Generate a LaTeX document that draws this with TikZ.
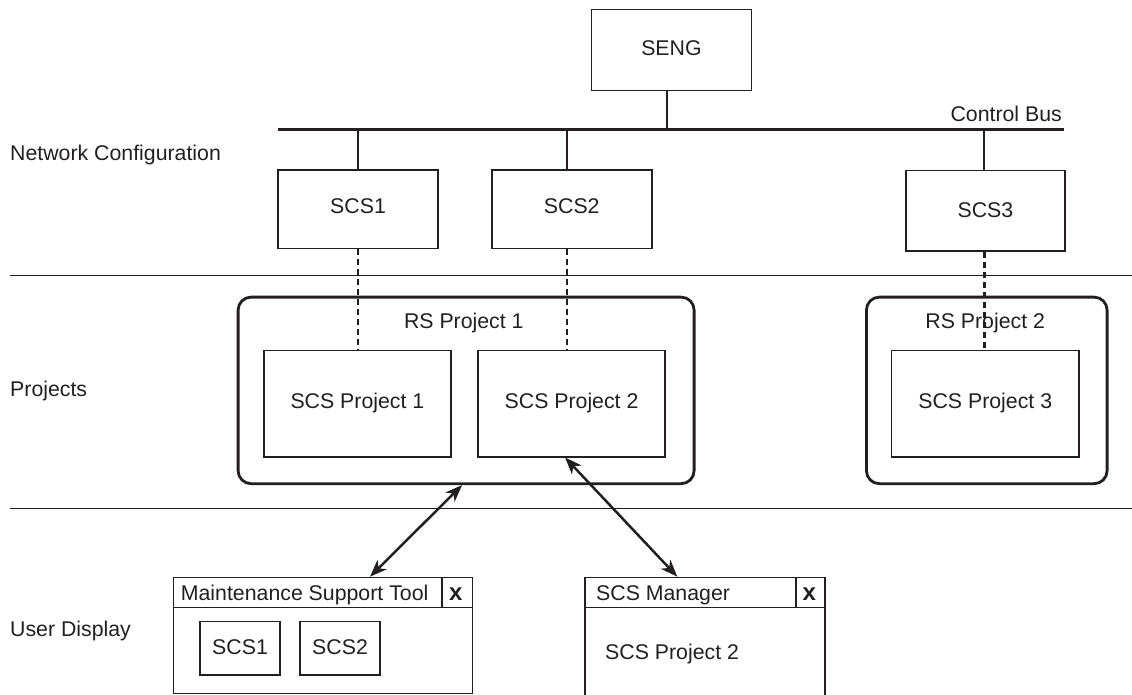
\documentclass[tikz,border=0pt]{standalone}
\usepackage{fontspec}
\setmainfont{Liberation Sans}
\usetikzlibrary{arrows.meta,calc}
\definecolor{ink}{RGB}{35,31,32}
\begin{document}
\begin{tikzpicture}[x=1pt,y=-1pt,
  every node/.style={font=\fontsize{21.3pt}{25pt}\selectfont, text=ink, inner sep=0pt},
  box/.style={draw=ink, line width=1.5pt, anchor=north west, text height=14.5pt},
  rsbox/.style={draw=ink, line width=2.8pt, rounded corners=13pt, anchor=north west},
  winbox/.style={draw=ink, line width=1.5pt, anchor=north west},
  bus/.style={draw=ink, line width=2.9pt},
  drop/.style={draw=ink, line width=2.5pt},
  link/.style={draw=ink, line width=2.5pt, dash pattern=on 6pt off 4pt},
  thin/.style={draw=ink, line width=1.5pt},
  both/.style={draw=ink, line width=2.5pt,
    {Stealth[length=17pt,width=13pt,inset=5pt]}-{Stealth[length=17pt,width=13pt,inset=5pt]}},
  lbl/.style={anchor=base west},
  closex/.style={font=\fontsize{24pt}{28pt}\selectfont\bfseries, anchor=center},
]
\useasboundingbox (0,0) rectangle (1132,695);

% layer labels
\node[lbl] (lnet)  at (10,161) {Network Configuration};
\node[lbl] (lproj) at (10,396) {Projects};
\node[lbl] (luser) at (10,636) {User Display};

% layer separators
\coordinate (s1l) at (10,275.3);  \coordinate (s1r) at (1132,275.3);
\coordinate (s2l) at (10,508.5);  \coordinate (s2r) at (1132,508.5);
\draw[thin] (s1l) -- (s1r);
\draw[thin] (s2l) -- (s2r);

% network configuration
\node[box, minimum width=160pt, minimum height=81pt, text depth=4pt]
  (seng) at (590.7,9) {SENG};
\node[box, minimum width=160pt, minimum height=78.4pt, text depth=5.4pt]
  (scs1) at (277.3,169.3) {SCS1};
\node[box, minimum width=160pt, minimum height=78.4pt, text depth=5.4pt]
  (scs2) at (491,169.3) {SCS2};
\node[box, minimum width=159.3pt, minimum height=80.3pt, text depth=0.7pt]
  (scs3) at (905,169.7) {SCS3};

\coordinate (busl) at (277.7,129.3);
\coordinate (busr) at (1064,129.3);
\draw[bus] (busl) -- (busr);
\node[anchor=base east] (buslbl) at (1062,122) {Control Bus};

\draw[drop] ([xshift=-4.7pt]seng.south) -- ([xshift=-4.7pt]seng.south |- busl);
\draw[drop] (scs1.north) -- (scs1.north |- busl);
\draw[drop] ([xshift=-5pt]scs2.north) -- ([xshift=-5pt]scs2.north |- busl);
\draw[drop] ([xshift=-1.3pt]scs3.north) -- ([xshift=-1.3pt]scs3.north |- busl);

% projects
\node[rsbox, minimum width=456pt, minimum height=186.6pt] (rs1) at (236.7,295.7) {};
\node[rsbox, minimum width=240.7pt, minimum height=186.6pt] (rs2) at (865,295.7) {};
\node[anchor=base] (rs1t) at (463.8,328.3) {RS Project 1};
\node[anchor=base] (rs2t) at (985.2,328.3) {RS Project 2};

\node[box, minimum width=186.7pt, minimum height=106.3pt, text depth=5pt]
  (scsp1) at (263.3,349.7) {SCS Project 1};
\node[box, minimum width=187pt, minimum height=106.3pt, text depth=5pt]
  (scsp2) at (477.3,349.7) {SCS Project 2};
\node[box, minimum width=187.6pt, minimum height=106.3pt, text depth=5pt]
  (scsp3) at (890.7,349.7) {SCS Project 3};

\draw[link] (scs1.south) -- (scs1.south |- scsp1.north);
\draw[link] ([xshift=-5pt]scs2.south) -- ([xshift=-5pt]scs2.south |- scsp2.north);
\draw[link] ([xshift=-1pt]scs3.south) -- ([xshift=-1pt]scs3.south |- scsp3.north);

% user display windows
\node[winbox, minimum width=299pt, minimum height=116pt] (mst) at (172.7,576.7) {};
\draw[thin] ($(mst.north west)+(0,30.6)$) -- ($(mst.north east)+(0,30.6)$);
\draw[thin] ($(mst.north east)+(-31,0)$) -- ($(mst.north east)+(-31,30.6)$);
\node[lbl] (mstt) at (180.7,600.7) {Maintenance Support Tool};
\node[closex] (mstx) at (455.8,594) {x};
\node[box, minimum width=80pt, minimum height=53.3pt, text depth=1.2pt]
  (ms1) at (199.3,620.7) {SCS1};
\node[box, minimum width=80pt, minimum height=53.3pt, text depth=1.2pt]
  (ms2) at (299.3,620.7) {SCS2};

\node[winbox, minimum width=239.7pt, minimum height=121pt] (mgr) at (584.3,576.7) {};
\draw[thin] ($(mgr.north west)+(0,30.6)$) -- ($(mgr.north east)+(0,30.6)$);
\draw[thin] ($(mgr.north east)+(-29.7,0)$) -- ($(mgr.north east)+(-29.7,30.6)$);
\node[lbl] (mgrt) at (596,600.7) {SCS Manager};
\node[closex] (mgrx) at (809.2,594) {x};
\node[lbl] (mgrp) at (605,659.3) {SCS Project 2};

% access arrows
\draw[both] ([xshift=-4pt]rs1.south) -- ($(mst.north west)+(197.3,0)$);
\draw[both] ([xshift=-6.5pt]scsp2.south) -- ($(mgr.north west)+(93,0)$);
\end{tikzpicture}
\end{document}
